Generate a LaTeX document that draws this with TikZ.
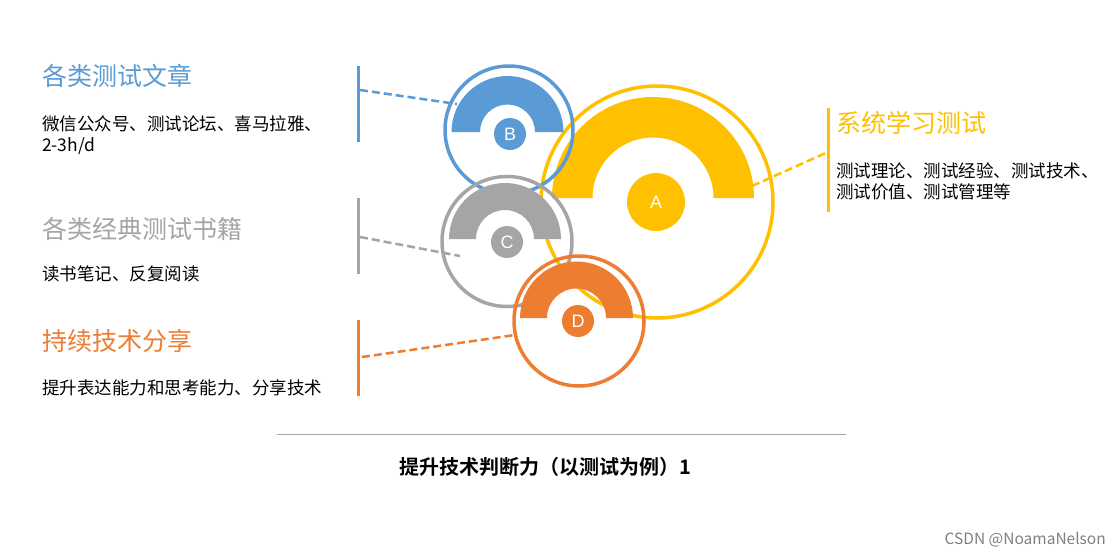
\documentclass[tikz,border=0pt]{standalone}
\usepackage{fontspec}
\setmainfont{Noto Sans CJK SC}
\newfontfamily\cjkb{Noto Sans CJK SC Bold}
\newfontfamily\latn{Liberation Sans}
\definecolor{cB}{HTML}{5B9BD5}
\definecolor{cG}{HTML}{A5A5A5}
\definecolor{cO}{HTML}{ED7D31}
\definecolor{cY}{HTML}{FFC000}
\tikzset{
 ring/.style={line width=3.5pt,fill=none},
 dashl/.style={line width=2.5pt,dash pattern=on 8pt off 4pt},
 bar/.style={line width=3pt},
 ttl/.style={anchor=west,inner sep=0,font=\fontsize{25}{28}\selectfont},
 body/.style={anchor=west,inner sep=0,align=left,font=\fontsize{17.5}{21}\selectfont},
 dot/.style={circle,text=white,inner sep=0,font=\latn\fontsize{18}{18}\selectfont}
}
\newcommand{\arch}[5]{\fill[#1] (#2,#3) ++(-#4,0) arc[start angle=180,end angle=360,radius=#4] -- ++(-#4+#5,0) arc[start angle=360,end angle=180,radius=#5] -- cycle;}
\begin{document}
\begin{tikzpicture}[x=1pt,y=-1pt]
\useasboundingbox[fill=white] (0,0) rectangle (1120,555);
% bars
\coordinate (bB1) at (358,66); \coordinate (bB2) at (358,142);
\coordinate (bG1) at (358,198); \coordinate (bG2) at (358,274);
\coordinate (bO1) at (358,320); \coordinate (bO2) at (358,396);
\coordinate (bY1) at (828,108); \coordinate (bY2) at (828,212);
\draw[bar,cB] (bB1)--(bB2);
\draw[bar,cG] (bG1)--(bG2);
\draw[bar,cO] (bO1)--(bO2);
\draw[bar,cY] (bY1)--(bY2);
% dashed connectors
\coordinate (dB1) at (360,90); \coordinate (dB2) at (457,104);
\coordinate (dG1) at (360,237); \coordinate (dG2) at (460,256);
\coordinate (dO1) at (362,357); \coordinate (dO2) at (515,335);
\coordinate (dY1) at (752,186); \coordinate (dY2) at (828,152);
\draw[dashl,cB] (dB1)--(dB2);
\draw[dashl,cG] (dG1)--(dG2);
\draw[dashl,cO] (dO1)--(dO2);
\draw[dashl,cY] (dY1)--(dY2);
% A
\draw[ring,cY] (657,202) circle[radius=116];
\arch{cY}{653}{198}{101}{60.5}
\node[dot,fill=cY,minimum size=58pt] (A) at (656,202) {A};
% B
\draw[ring,cB] (509,130) circle[radius=64];
\arch{cB}{507.5}{132}{56}{27.5}
\node[dot,fill=cB,minimum size=32pt] (B) at (510,134) {B};
% C
\draw[ring,cG] (507,241.5) circle[radius=65];
\arch{cG}{505}{239}{56}{29}
\node[dot,fill=cG,minimum size=32pt] (C) at (507,242) {C};
% D
\draw[ring,cO] (579,321) circle[radius=65];
\arch{cO}{576.5}{318}{56.5}{29.5}
\node[dot,fill=cO,minimum size=32pt] (D) at (578,321) {D};
% texts
\node[ttl,text=cB] (t1) at (42,76) {各类测试文章};
\node[body] (s1) at (42,135) {微信公众号、测试论坛、喜马拉雅、\\2-3h/d};
\node[ttl,text=cG] (t2) at (42,229) {各类经典测试书籍};
\node[body] (s2) at (42,274) {读书笔记、反复阅读};
\node[ttl,text=cO] (t3) at (42,341) {持续技术分享};
\node[body] (s3) at (42,388) {提升表达能力和思考能力、分享技术};
\node[ttl,text=cY] (t4) at (836,123) {系统学习测试};
\node[body] (s4) at (836,181) {测试理论、测试经验、测试技术、\\测试价值、测试管理等};
% bottom
\coordinate (l1) at (277,434); \coordinate (l2) at (846,434);
\draw[gray!70,line width=1pt] (l1)--(l2);
\node[inner sep=0,font=\cjkb\fontsize{20}{22}\selectfont] (cap) at (545,467) {提升技术判断力（以测试为例）1};
\node[anchor=east,inner sep=0,text=gray,font=\fontsize{15.5}{17}\selectfont] (wm) at (1106,540) {CSDN @NoamaNelson};
\end{tikzpicture}
\end{document}
